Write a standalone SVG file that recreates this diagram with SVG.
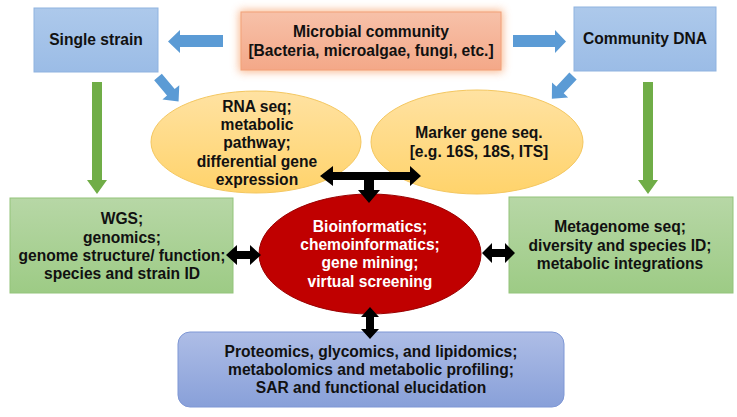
<svg xmlns="http://www.w3.org/2000/svg" width="737" height="417" viewBox="0 0 737 417">
<defs>
<linearGradient id="gBlue" x1="0" y1="0" x2="0" y2="1"><stop offset="0" stop-color="#adc9eb"/><stop offset="1" stop-color="#9bbce6"/></linearGradient>
<linearGradient id="gOrange" x1="0" y1="0" x2="0" y2="1"><stop offset="0" stop-color="#f7c1a9"/><stop offset="1" stop-color="#f4a888"/></linearGradient>
<linearGradient id="gGreen" x1="0" y1="0" x2="0" y2="1"><stop offset="0" stop-color="#b7d7a6"/><stop offset="1" stop-color="#9dcb85"/></linearGradient>
<linearGradient id="gYellow" x1="0" y1="0" x2="0" y2="1"><stop offset="0" stop-color="#ffe2a2"/><stop offset="1" stop-color="#ffd36b"/></linearGradient>
<linearGradient id="gViolet" x1="0" y1="0" x2="0" y2="1"><stop offset="0" stop-color="#aebde6"/><stop offset="1" stop-color="#88a0d9"/></linearGradient>
<filter id="glow" x="-20%" y="-40%" width="140%" height="180%"><feGaussianBlur stdDeviation="4"/></filter>
</defs>
<style>
text{font-family:"Liberation Sans",Arial,sans-serif;font-weight:bold;font-size:15.6px;text-anchor:middle;fill:#111}
.w{fill:#fff}
.blueBox{fill:url(#gBlue);stroke:#8fb3e0;stroke-width:1}
.greenBox{fill:url(#gGreen);stroke:#93c47a;stroke-width:1}
.yel{fill:url(#gYellow);stroke:#f4c760;stroke-width:1}
.barrow{fill:#5b9bd5}
.garrow{fill:#70ad47}
.karrow{fill:#000}
</style>
<rect width="737" height="417" fill="#fff"/>
<g id="single-strain">
<rect class="blueBox" x="34" y="8" width="124" height="64"/>
<text x="96" y="45">Single strain</text>
</g>
<g id="microbial-community">
<rect x="239" y="10" width="264" height="62" fill="#f7a36d" opacity="0.75" filter="url(#glow)"/>
<rect x="241" y="12" width="260" height="58" fill="url(#gOrange)" stroke="#f2a178" stroke-width="1"/>
<text x="371" y="37">Microbial community</text>
<text x="371" y="56">[Bacteria, microalgae, fungi, etc.]</text>
</g>
<g id="community-dna">
<rect class="blueBox" x="574" y="7" width="142" height="64"/>
<text x="645" y="44">Community DNA</text>
</g>
<g id="rna-seq">
<ellipse class="yel" cx="256" cy="142" rx="105" ry="51"/>
<text x="257" y="112">RNA seq;</text>
<text x="257" y="130">metabolic</text>
<text x="257" y="148">pathway;</text>
<text x="257" y="167">differential gene</text>
<text x="257" y="185">expression</text>
</g>
<g id="marker-gene">
<ellipse class="yel" cx="477" cy="142" rx="106" ry="52"/>
<text x="479" y="138">Marker gene seq.</text>
<text x="479" y="157">[e.g. 16S, 18S, ITS]</text>
</g>
<g id="wgs">
<rect class="greenBox" x="10" y="198" width="223" height="95"/>
<text x="122" y="224">WGS;</text>
<text x="122" y="243">genomics;</text>
<text x="122" y="261">genome structure/ function;</text>
<text x="122" y="279">species and strain ID</text>
</g>
<g id="bioinformatics">
<ellipse cx="370" cy="254" rx="111" ry="60" fill="#c00000" stroke="#9a0000" stroke-width="1"/>
<text class="w" x="370" y="232">Bioinformatics;</text>
<text class="w" x="370" y="250">chemoinformatics;</text>
<text class="w" x="370" y="268">gene mining;</text>
<text class="w" x="370" y="287">virtual screening</text>
</g>
<g id="metagenome">
<rect class="greenBox" x="509" y="197" width="224" height="96"/>
<text x="620" y="232">Metagenome seq;</text>
<text x="620" y="251">diversity and species ID;</text>
<text x="620" y="269">metabolic integrations</text>
</g>
<g id="omics">
<rect x="178" y="332" width="386" height="75" rx="12" ry="12" fill="url(#gViolet)" stroke="#7e97d5" stroke-width="1"/>
<text x="371" y="357">Proteomics, glycomics, and lipidomics;</text>
<text x="371" y="375">metabolomics and metabolic profiling;</text>
<text x="371" y="393">SAR and functional elucidation</text>
</g>
<g id="connectors">
<polygon class="barrow" points="223,35 180,35 180,30 168,41.5 180,53 180,47 223,47"/>
<polygon class="barrow" points="513,35 555,35 555,30 566,41.5 555,53 555,47 513,47"/>
<polygon class="barrow" transform="translate(158,77) rotate(50)" points="0,-5 20,-5 20,-11 32,0 20,11 20,5 0,5"/>
<polygon class="barrow" transform="translate(573,76) rotate(133)" points="0,-5 19,-5 19,-11 31,0 19,11 19,5 0,5"/>
<polygon class="garrow" points="92,82 102,82 102,180 107,180 97,194 87,180 92,180"/>
<polygon class="garrow" points="643,82 653,82 653,180 658,180 648,194 638,180 643,180"/>
<polygon class="karrow" points="320,176 333,166 333,172 410,172 410,166 421,176 410,186 410,180 374,180 374,190 380,190 369,203 358,190 364,190 364,180 333,180 333,186"/>
<polygon class="karrow" points="226,255 237,245 237,251 250,251 250,245 261,255 250,265 250,259 237,259 237,265"/>
<polygon class="karrow" points="482,253 492,243 492,249 505,249 505,243 515,253 505,263 505,257 492,257 492,263"/>
<polygon class="karrow" points="370,307 379,317 374,317 374,329 379,329 370,339 361,329 366,329 366,317 361,317"/>
</g>
</svg>
